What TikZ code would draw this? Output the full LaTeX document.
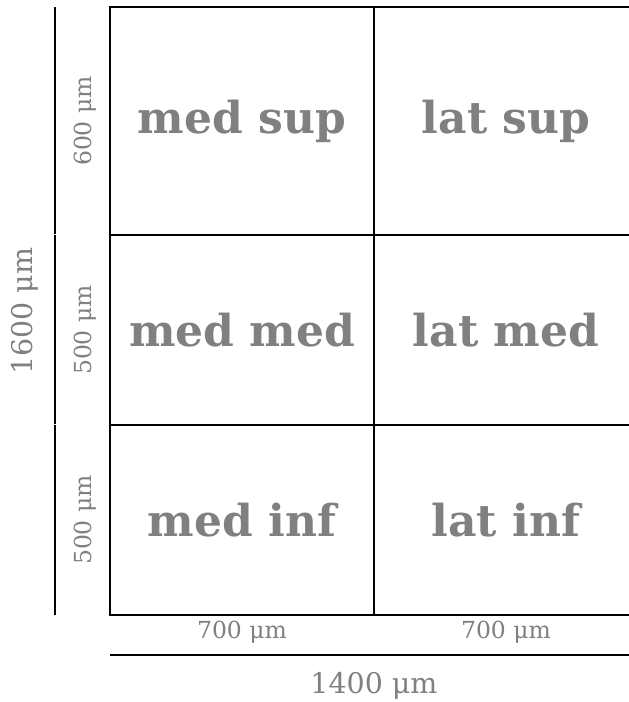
\documentclass[tikz,border=0pt]{standalone}
\usepackage{fontspec}
\setmainfont{DejaVu Serif}
\usetikzlibrary{calc,positioning}
\definecolor{gristxt}{RGB}{128,128,128}

\begin{document}
\begin{tikzpicture}[x=1pt,y=1pt,
  case/.style={draw,line width=2pt,minimum width=264pt,inner sep=0pt,outer sep=0pt,
    text=gristxt,font=\fontsize{44}{52}\selectfont\bfseries},
  cote/.style={text=gristxt,inner sep=0pt,font=\fontsize{23.5}{28}\selectfont},
  grandecote/.style={cote,font=\fontsize{28.5}{34}\selectfont},
  trait/.style={line width=2pt}]

% --------- PARAMÈTRES ----------
\def\xg{110}      % bord gauche de la grille
\def\lc{264}      % largeur d'une colonne (700 um)
\def\yh{695}      % bord haut de la grille
% --------------------------------

\useasboundingbox (0,0) rectangle (629,702);
\clip (0,0) rectangle (629,702);

% Cases : rangée / haut / hauteur
\foreach \r/\y/\h in {sup/695/228,med/467/190,inf/277/190}{
  \node[case,minimum height=\h pt,anchor=north west] (med\r) at (\xg,\y) {med \r};
  \node[case,minimum height=\h pt,anchor=north west] (lat\r) at (\xg+\lc,\y) {lat \r};
}

% Cotes verticales (à gauche)
\draw[trait] ([xshift=-55pt]medsup.north west) -- ([xshift=-55pt,yshift=0.5pt]medsup.south west);
\draw[trait] ([xshift=-55pt,yshift=-0.5pt]medmed.north west) -- ([xshift=-55pt,yshift=0.5pt]medmed.south west);
\draw[trait] ([xshift=-55pt,yshift=-0.5pt]medinf.north west) -- ([xshift=-55pt]medinf.south west);
\foreach \r/\v in {sup/600,med/500,inf/500}{
  \node[cote,rotate=90] (c\r) at ([xshift=-25pt]med\r.west) {\v~μm};
}
\node[grandecote,rotate=90] (ctot) at ([xshift=-85pt]$(medsup.north west)!0.5!(medinf.south west)$) {1600~μm};

% Cotes horizontales (en bas)
\node[cote] (cmed) at ([yshift=-17pt]medinf.south) {700~μm};
\node[cote] (clat) at ([yshift=-17pt]latinf.south) {700~μm};
\draw[trait] ([yshift=-40pt]medinf.south west) -- ([yshift=-40pt]latinf.south east);
\node[grandecote] (cbas) at ([yshift=-71pt]$(medinf.south west)!0.5!(latinf.south east)$) {1400~μm};

\end{tikzpicture}
\end{document}
